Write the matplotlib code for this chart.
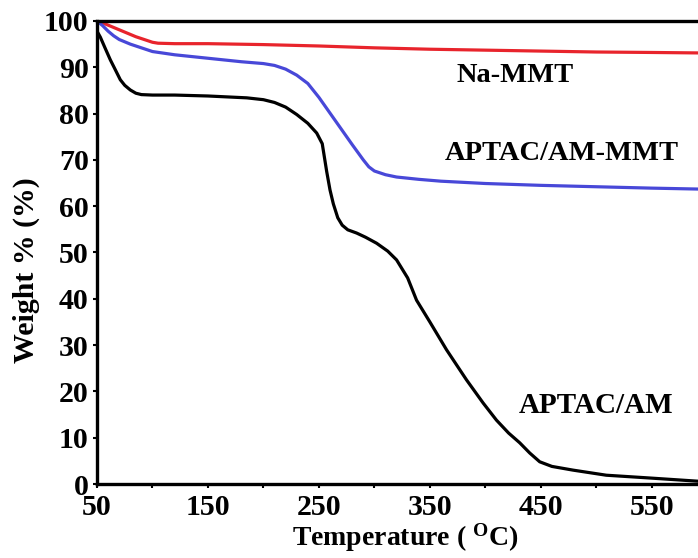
import matplotlib
matplotlib.use("Agg")
import matplotlib.pyplot as plt

# TGA curves: temperature (°C) vs. residual weight (%)
na_mmt_t = [50, 55, 60, 65, 70, 75, 80, 85, 90, 95, 100, 105, 120, 150, 200,
            250, 300, 350, 400, 450, 500, 550, 592]
na_mmt_w = [100, 99.6, 99.1, 98.6, 98.1, 97.6, 97.1, 96.6, 96.2, 95.8, 95.4,
            95.2, 95.1, 95.1, 94.9, 94.6, 94.2, 93.9, 93.7, 93.5, 93.3, 93.2, 93.1]

composite_t = [50, 55, 60, 65, 70, 80, 90, 100, 120, 140, 160, 180, 200, 210,
               220, 230, 240, 250, 260, 270, 280, 290, 295, 300, 305, 310, 320,
               340, 360, 400, 450, 500, 550, 592]
composite_w = [100, 99.0, 97.8, 96.8, 96.0, 95.0, 94.2, 93.4, 92.7, 92.2, 91.7,
               91.2, 90.8, 90.4, 89.6, 88.3, 86.5, 83.5, 80.1, 76.7, 73.3, 70.0,
               68.5, 67.6, 67.2, 66.8, 66.3, 65.8, 65.4, 64.9, 64.5, 64.2, 63.9,
               63.7]

polymer_t = [50, 53, 57, 62, 66, 71, 75, 80, 85, 90, 100, 120, 150, 185, 200,
             210, 220, 230, 240, 248, 253, 257, 260, 263, 267, 271, 276, 284,
             292, 302, 312, 320, 330, 338, 350, 365, 383, 398, 410, 421, 431,
             440, 449, 460, 479, 509, 548, 592]
polymer_w = [97.8, 96.5, 94.3, 91.6, 89.7, 87.3, 86.1, 85.1, 84.4, 84.1, 84.0,
             84.0, 83.8, 83.4, 83.0, 82.4, 81.4, 79.8, 77.9, 75.8, 73.5, 67.5,
             63.5, 60.5, 57.5, 55.9, 54.9, 54.2, 53.3, 52.0, 50.3, 48.4, 44.5,
             39.7, 35.0, 29.0, 22.5, 17.5, 13.8, 11.0, 8.9, 6.7, 4.8, 3.8, 3.0,
             1.9, 1.3, 0.6]

x_ticks = [50, 150, 250, 350, 450, 550]
x_minor = [100, 200, 300, 400, 500]
y_ticks = list(range(0, 101, 10))

plt.rcParams["font.family"] = ["Liberation Serif", "DejaVu Serif"]
plt.rcParams["font.weight"] = "bold"
plt.rcParams["mathtext.fontset"] = "custom"
plt.rcParams["mathtext.rm"] = "Liberation Serif:bold"
plt.rcParams["mathtext.it"] = "Liberation Serif:bold"
plt.rcParams["mathtext.bf"] = "Liberation Serif:bold"

fig = plt.figure(figsize=(6.98, 5.58), dpi=100)
ax = fig.add_axes([0.139, 0.1326, 0.8615, 0.8298])

lw = 2.3
ax.plot(na_mmt_t, na_mmt_w, color="#e8242c", lw=lw, solid_capstyle="butt")
ax.plot(composite_t, composite_w, color="#4848d8", lw=lw, solid_capstyle="butt")
ax.plot(polymer_t, polymer_w, color="black", lw=lw, solid_capstyle="butt")

ax.set_xlim(50, 592)
ax.set_ylim(0, 100)
ax.set_xticks(x_ticks)
ax.set_xticks(x_minor, minor=True)
ax.set_yticks(y_ticks)

for side in ("left", "bottom", "top"):
    ax.spines[side].set_linewidth(2.4)
ax.spines["right"].set_visible(False)

ax.tick_params(axis="both", which="both", direction="out", length=3, width=1.5,
               labelsize=21.5)
ax.tick_params(axis="x", which="major", pad=4)
ax.tick_params(axis="y", which="major", pad=3)
for lab in ax.get_xticklabels() + ax.get_yticklabels():
    lab.set_fontweight("bold")

ax.set_xlabel(r"Temperature ( $^{\mathrm{O}}$C)", fontsize=20, fontweight="bold")
ax.xaxis.label.set_va("baseline")
ax.xaxis.set_label_coords(0.5125, -0.132)

ax.set_ylabel("Weight % (%)", fontsize=21.5, fontweight="bold")
ax.yaxis.label.set_va("center")
ax.yaxis.set_label_coords(-0.118, 0.462)

ax.text(426.5, 86.8, "Na-MMT", fontsize=20.5, fontweight="bold",
        ha="center", va="baseline")
ax.text(468.8, 70.0, "APTAC/AM-MMT", fontsize=20.5, fontweight="bold",
        ha="center", va="baseline")
ax.text(499.5, 15.3, "APTAC/AM", fontsize=21, fontweight="bold",
        ha="center", va="baseline")

fig.savefig("out.png", dpi=100)
